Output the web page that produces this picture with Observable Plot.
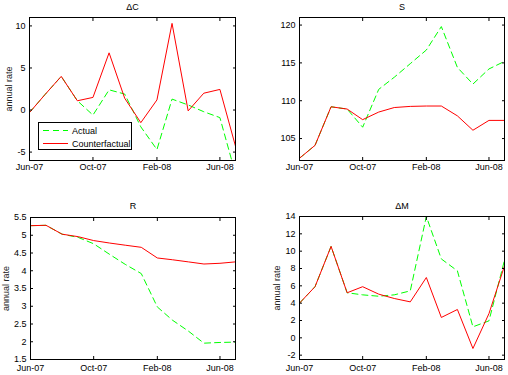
<!DOCTYPE html>
<html>
<head>
<meta charset="utf-8">
<script src="https://cdn.jsdelivr.net/npm/d3@7"></script>
<script src="https://cdn.jsdelivr.net/npm/@observablehq/plot@0.6"></script>
<style>
  body { margin: 0; background: #fff; }
  #chart { position: relative; width: 508px; height: 375px; background: #fff;
           font-family: Arial, "Liberation Sans", Helvetica, sans-serif; }
  .panel { position: absolute; }
  .legend { position: absolute; left: 38px; top: 122px; width: 94px; height: 28px;
            border: 1px solid #000; background: #fff; box-sizing: border-box; }
</style>
</head>
<body>
<div id="chart"></div>
<script>
// ---- data ----
const months = ["2007-06","2007-07","2007-08","2007-09","2007-10","2007-11","2007-12",
                "2008-01","2008-02","2008-03","2008-04","2008-05","2008-06","2008-07"];
const xTicks = ["2007-06","2007-10","2008-02","2008-06"];
const seriesNames = ["Actual", "Counterfactual"];

const dcActual  = [-0.3, 1.85, 4.0, 1.1, -0.6, 2.4, 1.9, -2.0, -4.7, 1.3, 0.6, -0.2, -0.9, -7.6];
const dcCounter = [-0.3, 1.85, 4.0, 1.1, 1.5, 6.8, 1.4, -1.5, 1.2, 10.3, -0.1, 2.0, 2.45, -4.3];
const dcTicks = [-5, 0, 5, 10];

const sActual  = [102.4, 104.1, 109.2, 108.9, 106.5, 111.5, 113.1, 114.9, 116.7, 119.8, 114.4, 112.2, 114.2, 115.2];
const sCounter = [102.4, 104.1, 109.2, 108.9, 107.5, 108.5, 109.1, 109.25, 109.3, 109.3, 108.0, 106.1, 107.4, 107.4];
const sTicks = [105, 110, 115, 120];

const rActual  = [5.27, 5.28, 5.03, 4.94, 4.76, 4.46, 4.18, 3.92, 2.98, 2.61, 2.30, 1.96, 1.98, 1.99];
const rCounter = [5.27, 5.28, 5.03, 4.96, 4.85, 4.78, 4.72, 4.66, 4.36, 4.31, 4.25, 4.19, 4.21, 4.25];
const rTicks = [1.5, 2, 2.5, 3, 3.5, 4, 4.5, 5, 5.5];

const mActual  = [4.0, 5.9, 10.55, 5.2, 4.96, 4.8, 4.96, 5.42, 14.0, 9.1, 7.73, 1.27, 1.96, 8.96];
const mCounter = [4.0, 5.9, 10.55, 5.2, 5.9, 5.04, 4.54, 4.15, 6.96, 2.35, 3.27, -1.23, 2.8, 8.3];
const mTicks = [-2, 0, 2, 4, 6, 8, 10, 12, 14];

// ---- drawing ----
const parse = d3.utcParse("%Y-%m");
const dates = months.map(parse);
const xTickDates = xTicks.map(parse);
const GREEN = "#00ff00", RED = "#ff0000";
const chart = document.getElementById("chart");

function panel(o) {
  const rows = dates.map((d, i) => ({date: d, actual: o.actual[i], counter: o.counter[i]}));
  const p = Plot.plot({
    width: 254, height: o.h,
    marginLeft: o.ml, marginRight: o.mr, marginTop: o.mt, marginBottom: o.mb,
    style: {fontFamily: 'Arial, "Liberation Sans", sans-serif', fontSize: "9px", color: "#000",
            background: "transparent", overflow: "visible"},
    x: {type: "utc", domain: [dates[0], dates[dates.length - 1]]},
    y: {domain: o.yDomain},
    marks: [
      Plot.line(rows, {x: "date", y: "actual", stroke: GREEN, strokeWidth: 1, strokeDasharray: "6,4", clip: true}),
      Plot.line(rows, {x: "date", y: "counter", stroke: RED, strokeWidth: 1, clip: true}),
      Plot.frame({stroke: "#000"}),
      Plot.axisX(xTickDates, {anchor: "bottom", tickSize: 0, tickPadding: o.xPad, tickFormat: d3.utcFormat("%b-%y"), label: null}),
      Plot.axisX(xTickDates, {anchor: "bottom", tickSize: 3, dy: -3, fill: "none", label: null}),
      Plot.axisX(xTickDates, {anchor: "top", tickSize: 3, dy: 3, fill: "none", label: null}),
      Plot.axisY(o.yTicks, {anchor: "left", tickSize: 0, tickPadding: 4, tickFormat: d => String(d), label: null}),
      Plot.axisY(o.yTicks, {anchor: "left", tickSize: 3, dx: 3, fill: "none", label: null}),
      Plot.axisY(o.yTicks, {anchor: "right", tickSize: 3, dx: -3, fill: "none", label: null}),
      Plot.text([o.title], {frameAnchor: "top", dy: o.titleDy, text: d => d, fontSize: 9, lineAnchor: "middle", fill: "#000"}),
      o.yLabel ? Plot.text([o.yLabel], {frameAnchor: "left", dx: o.labelDx, rotate: -90, text: d => d,
                                       fontSize: 9, lineAnchor: "middle", textAnchor: "middle", fill: "#222"}) : null
    ]
  });
  p.classList.add("panel");
  p.style.left = o.left + "px";
  p.style.top = o.top + "px";
  chart.appendChild(p);
}

panel({title: "ΔC", actual: dcActual, counter: dcCounter, yDomain: [-6, 11], yTicks: dcTicks,
       yLabel: "annual rate", labelDx: -20, left: 0, top: 0, h: 187,
       ml: 29, mr: 19, mt: 17, mb: 27, xPad: 3, titleDy: -10});
panel({title: "S", actual: sActual, counter: sCounter, yDomain: [102.1, 121], yTicks: sTicks,
       yLabel: null, left: 254, top: 0, h: 187,
       ml: 45, mr: 4, mt: 17, mb: 27, xPad: 3, titleDy: -10});
panel({title: "R", actual: rActual, counter: rCounter, yDomain: [1.5, 5.5], yTicks: rTicks,
       yLabel: "annual rate", labelDx: -24, left: 0, top: 187, h: 188,
       ml: 30, mr: 19, mt: 30, mb: 16, xPad: 5, titleDy: -11});
panel({title: "ΔM", actual: mActual, counter: mCounter, yDomain: [-2.5, 14], yTicks: mTicks,
       yLabel: "annual rate", labelDx: -22, left: 254, top: 187, h: 188,
       ml: 45, mr: 4, mt: 29, mb: 16, xPad: 5, titleDy: -10});

// legend inside the ΔC panel
const legend = document.createElement("div");
legend.className = "legend";
legend.innerHTML = `<svg width="92" height="26" style="position:absolute;left:0;top:0;font-family:Arial,'Liberation Sans',sans-serif;font-size:9px">
  <line x1="4" x2="29" y1="7.5" y2="7.5" stroke="${GREEN}" stroke-width="1" stroke-dasharray="6,4"/>
  <text x="33" y="7.5" dy="0.35em" fill="#000">${seriesNames[0]}</text>
  <line x1="4" x2="29" y1="20.5" y2="20.5" stroke="${RED}" stroke-width="1"/>
  <text x="33" y="20.5" dy="0.35em" fill="#000">${seriesNames[1]}</text>
</svg>`;
chart.appendChild(legend);
</script>
</body>
</html>
